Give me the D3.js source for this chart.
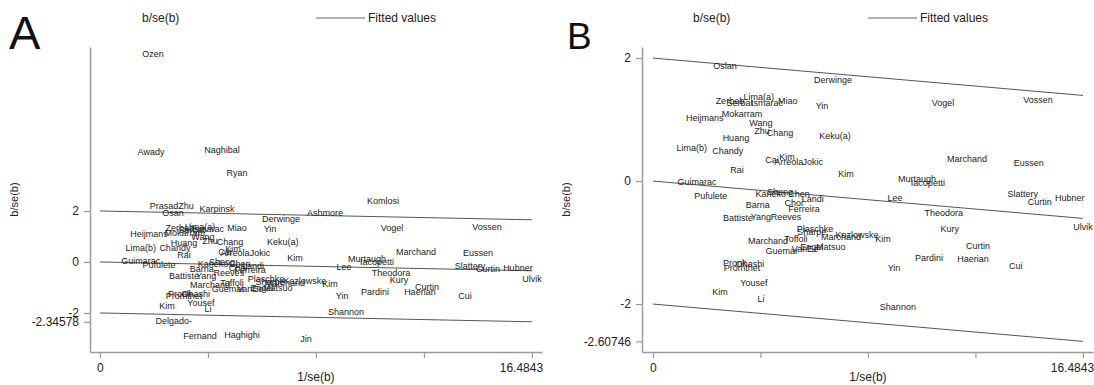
<!DOCTYPE html>
<html>
<head>
<meta charset="utf-8">
<script src="https://cdn.jsdelivr.net/npm/d3@7"></script>
<style>
  body { margin: 0; background: #fff; }
  svg text { font-family: "Liberation Sans", Arial, sans-serif; }
</style>
</head>
<body>
<svg id="chart" width="1094" height="385"></svg>
<script>
// ---- data: panel A (all studies) ----
const namesA = ["Ozen","Awady","Naghibal","Ryan","Komlosi","Prasad","Zhu","Osan","Karpinsk","Ashmore",
  "Derwinge","Yin","Zerbeb","Lima(a)","Serbat","Ismarac","Miao","Heijmans","Mokarram","Wang",
  "Zhu","Chang","Huang","Keku(a)","Lima(b)","Chandy","Rai","Cai","Kim","Arreola",
  "Jokic","Kim","Guimarac","Pufulete","Kaneko","Sheng","Chen","Landi","Choi","Ferreira",
  "Barna","Battiste","Yang","Reeves","Marchand","Toffoli","Plaschke","Sharpe","Marchand","Kozlowske",
  "Kim","Guemar","VanEe","Engel","Matsuo","Promthet","Ohashi","Pronk","Kim","Yousef",
  "Li","Delgado-","Fernand","Haghighi","Jin","Shannon","Yin","Lee","Murtaugh","Iacopetti",
  "Vogel","Vossen","Marchand","Eussen","Theodora","Kury","Curtin","Haerian","Pardini","Cui",
  "Slattery","Curtin","Hubner","Ulvik"];
const xA = [2.02,1.95,4.66,5.23,10.80,2.44,3.28,2.79,4.47,8.59,
  6.91,6.49,3.05,3.82,3.51,4.12,5.23,1.87,3.24,3.93,
  4.20,4.96,3.21,6.98,1.56,2.86,3.21,4.77,5.08,5.15,
  6.11,7.44,1.56,2.25,4.31,4.66,5.34,5.84,5.27,5.73,
  3.89,3.21,4.05,4.92,4.20,5.04,6.34,6.49,7.06,7.82,
  8.78,4.89,5.73,6.18,6.79,3.21,3.66,3.05,2.56,3.85,
  4.12,2.82,3.82,5.42,7.86,9.39,9.24,9.31,10.19,10.57,
  11.15,14.77,12.06,14.43,11.11,11.41,12.48,12.21,10.50,13.93,
  14.12,14.81,15.95,16.4843];
const yA = [8.16,4.31,4.39,3.49,2.39,2.20,2.20,1.92,2.08,1.92,
  1.69,1.29,1.33,1.37,1.25,1.29,1.33,1.10,1.14,0.98,
  0.82,0.78,0.75,0.78,0.55,0.55,0.27,0.39,0.51,0.35,
  0.35,0.16,0.04,-0.12,-0.08,0.00,-0.08,-0.16,-0.24,-0.31,
  -0.27,-0.55,-0.55,-0.43,-0.90,-0.82,-0.67,-0.78,-0.82,-0.75,
  -0.86,-1.06,-1.06,-1.02,-1.02,-1.33,-1.25,-1.25,-1.73,-1.61,
  -1.84,-2.31,-2.90,-2.86,-3.02,-1.96,-1.33,-0.20,0.12,0.00,
  1.33,1.37,0.39,0.35,-0.43,-0.71,-0.98,-1.18,-1.18,-1.33,
  -0.16,-0.27,-0.24,-0.67];
const slopeA = -0.020979;
const yTicksA = [-2.34578, -2, 0, 2];

// ---- data: panel B (outliers removed) ----
const namesB = ["Oslan","Derwinge","Zerbeb","Lima(a)","Serbat","Ismarac","Miao","Yin","Vogel","Vossen",
  "Heijmans","Mokarram","Wang","Zhu","Chang","Keku(a)","Huang","Lima(b)","Chandy","Cai",
  "Kim","Arreola","Jokic","Rai","Kim","Marchand","Eussen","Murtaugh","Iacopetti","Lee",
  "Slattery","Curtin","Hubner","Ulvik","Theodora","Kury","Curtin","Pardini","Haerian","Yin",
  "Cui","Shannon","Kim","Guimarac","Pufulete","Kaneko","Sheng","Chen","Landi","Choi",
  "Ferreira","Barna","Battiste","Yang","Reeves","Plaschke","Sharpe","Marchand","Kozlowske","Marchand",
  "Toffoli","Guemar","VanEe","Engel","Matsuo","Promthet","Ohashi","Pronk","Yousef","Kim","Li"];
const xB = [2.76,6.90,2.95,4.06,3.33,4.37,5.17,6.48,11.12,14.76,
  1.99,3.41,4.14,4.18,4.87,6.98,3.18,1.49,2.87,4.56,
  5.14,5.21,6.13,3.22,7.40,12.04,14.41,10.12,10.54,9.28,
  14.18,14.83,15.98,16.4843,11.15,11.38,12.46,10.58,12.27,9.24,
  13.91,9.39,8.82,1.69,2.22,4.52,4.87,5.60,6.13,5.40,
  5.79,4.02,3.26,4.14,5.10,6.21,6.09,7.21,7.82,4.41,
  5.48,4.94,5.83,6.09,6.82,3.41,3.72,3.14,3.87,2.57,4.14];
const yB = [1.87,1.64,1.30,1.37,1.27,1.27,1.30,1.22,1.27,1.32,
  1.02,1.09,0.94,0.81,0.78,0.73,0.70,0.54,0.49,0.34,
  0.39,0.31,0.31,0.18,0.11,0.36,0.29,0.03,-0.03,-0.28,
  -0.21,-0.34,-0.28,-0.75,-0.52,-0.78,-1.06,-1.25,-1.27,-1.41,
  -1.38,-2.05,-0.94,-0.02,-0.24,-0.21,-0.18,-0.20,-0.29,-0.36,
  -0.46,-0.39,-0.60,-0.59,-0.59,-0.78,-0.83,-0.91,-0.88,-0.98,
  -0.94,-1.14,-1.11,-1.07,-1.07,-1.41,-1.35,-1.33,-1.66,-1.80,-1.92];
const slopeB = -0.03685;
const yTicksB = [-2.60746, -2, 0, 2];

const xMax = 16.4843;
const fitOffsets = [-2, 0, 2];

const svg = d3.select('#chart');

function drawPanel(p) {
  const x = d3.scaleLinear().domain(p.xDomain).range([p.left, p.right]);
  const y = d3.scaleLinear().domain(p.yDomain).range([p.bottom, p.top]);
  const g = svg.append('g');

  // panel letter
  g.append('text').attr('x', p.letterX).attr('y', 49)
    .attr('font-size', p.letterSize).attr('fill', '#111').text(p.letter);

  // legend
  g.append('text').attr('x', p.legX1).attr('y', 22).attr('font-size', 12).attr('fill', '#222').text('b/se(b)');
  g.append('line').attr('x1', p.legX2).attr('x2', p.legX2 + 49).attr('y1', 18).attr('y2', 18)
    .attr('stroke', '#666').attr('stroke-width', 1.2);
  g.append('text').attr('x', p.legX2 + 52).attr('y', 22).attr('font-size', 12).attr('fill', '#222').text('Fitted values');

  // axes
  const yAxis = d3.axisLeft(y).tickValues(p.yTicks).tickSize(6).tickSizeOuter(0)
    .tickFormat(d => d === Math.round(d) ? String(d) : String(d));
  const ya = g.append('g').attr('transform', `translate(${p.left},0)`).call(yAxis);
  const xTicks = [0, xMax / 4, xMax / 2, xMax * 3 / 4, xMax];
  const xAxis = d3.axisBottom(x).tickValues(xTicks).tickSize(6).tickSizeOuter(0)
    .tickFormat(d => d === 0 ? '0' : (d === xMax ? String(xMax) : ''));
  const xa = g.append('g').attr('transform', `translate(0,${p.bottom})`).call(xAxis);
  [ya, xa].forEach(a => {
    a.select('.domain').attr('stroke', '#9a9a9a').attr('stroke-width', 1.5);
    a.selectAll('.tick line').attr('stroke', '#9a9a9a').attr('stroke-width', 1.2);
    a.selectAll('.tick text').attr('font-size', 12).attr('fill', '#222')
      .attr('font-family', '"Liberation Sans", Arial, sans-serif');
  });
  ya.selectAll('.tick text').attr('x', -11);
  xa.selectAll('.tick text').attr('y', 11)
    .filter(d => d === xMax).attr('x', -11);

  // axis titles
  g.append('text').attr('transform', `translate(${p.left - 72},${(p.top + p.bottom) / 2}) rotate(-90)`)
    .attr('text-anchor', 'middle').attr('font-size', 11).attr('fill', '#222').text('b/se(b)');
  g.append('text').attr('x', (x(0) + x(xMax)) / 2).attr('y', 381)
    .attr('text-anchor', 'middle').attr('font-size', 12).attr('fill', '#222').text('1/se(b)');

  // fitted lines
  g.selectAll('.fit').data(fitOffsets).enter().append('line')
    .attr('x1', x(0)).attr('x2', x(xMax))
    .attr('y1', d => y(d)).attr('y2', d => y(d + p.slope * xMax))
    .attr('stroke', '#555').attr('stroke-width', 1);

  // study labels
  g.selectAll('.lab').data(p.names).enter().append('text')
    .attr('x', (d, i) => x(p.xs[i])).attr('y', (d, i) => y(p.ys[i]))
    .attr('dy', '0.35em').attr('text-anchor', 'middle')
    .attr('font-size', 9).attr('fill', '#222').text(d => d);
}

drawPanel({
  letter: 'A', letterX: 9, letterSize: 47,
  legX1: 142, legX2: 316,
  left: 90, right: 542, top: 47, bottom: 352,
  xDomain: [-0.38, 16.87], yDomain: [-3.53, 8.43],
  yTicks: yTicksA, slope: slopeA,
  names: namesA, xs: xA, ys: yA
});

drawPanel({
  letter: 'B', letterX: 567, letterSize: 37,
  legX1: 693, legX2: 868,
  left: 642, right: 1093, top: 47, bottom: 352,
  xDomain: [-0.42, 16.87], yDomain: [-2.78, 2.18],
  yTicks: yTicksB, slope: slopeB,
  names: namesB, xs: xB, ys: yB
});
</script>
</body>
</html>
